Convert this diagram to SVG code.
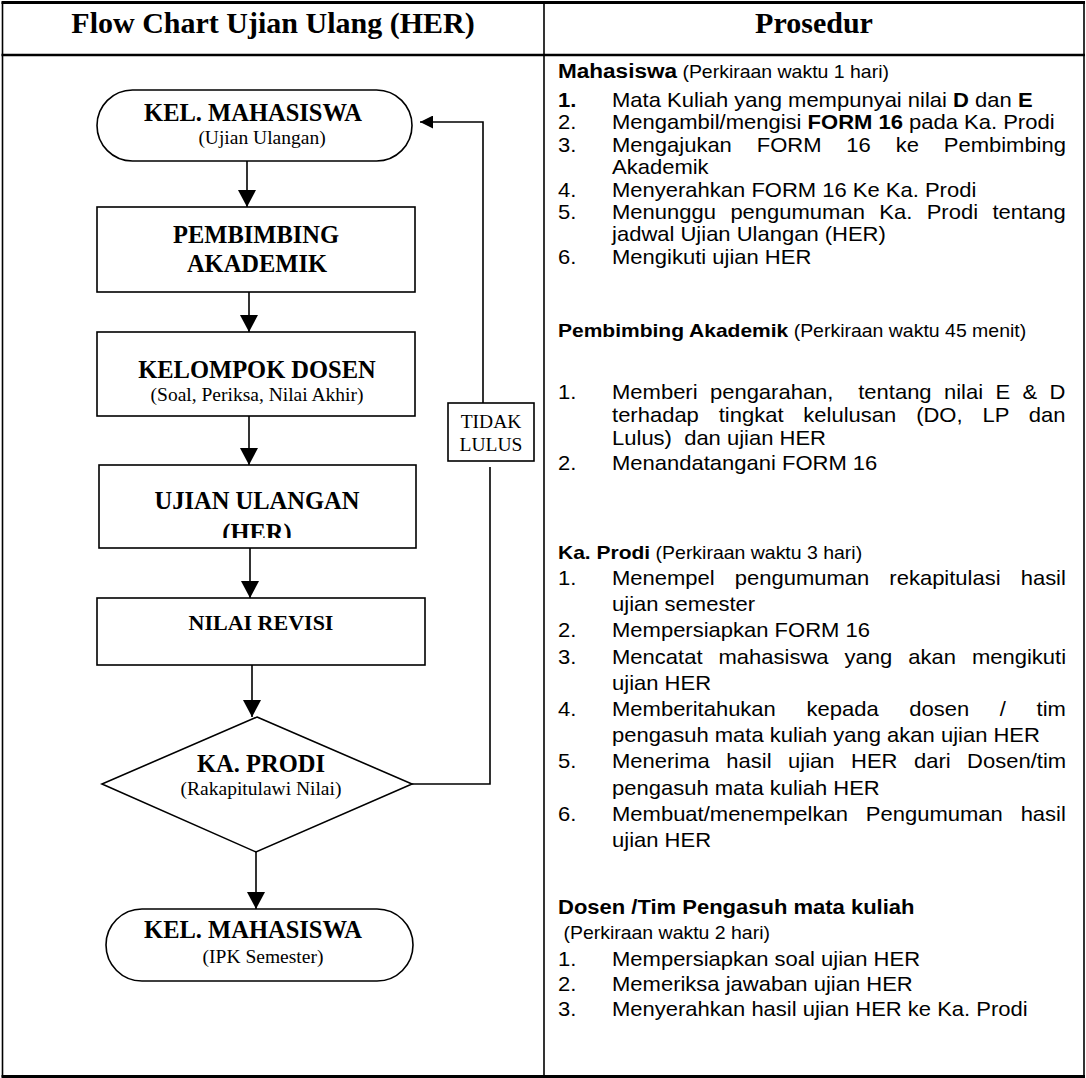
<svg xmlns="http://www.w3.org/2000/svg" width="1086" height="1078" viewBox="0 0 1086 1078">
<style>
.shape{fill:#fff;stroke:#000;stroke-width:1.6}
.ln{fill:none;stroke:#000;stroke-width:1.6}
.ts{font-family:"Liberation Serif","Times New Roman",serif;fill:#000;text-anchor:middle}
.tb{font-weight:bold;font-size:24.5px}
.tr{font-size:19.5px}
.hd{font-family:"Liberation Serif","Times New Roman",serif;font-weight:bold;font-size:30px;text-anchor:middle}
.p{font-family:"Liberation Sans",Arial,sans-serif;font-size:20px;fill:#000}
.b{font-weight:bold}
.sm{font-size:17.7px}
.h1{font-size:20.5px;font-weight:bold}
.h2{font-size:19.1px;font-weight:bold}
</style>
<defs>
<marker id="arr" viewBox="0 0 17 18" refX="17" refY="9" markerWidth="17" markerHeight="18" markerUnits="userSpaceOnUse" orient="auto"><path d="M0,0 L17,9 L0,18 z" fill="#000"/></marker>
<marker id="arrs" viewBox="0 0 13 13" refX="13" refY="6.5" markerWidth="13" markerHeight="13" markerUnits="userSpaceOnUse" orient="auto"><path d="M0,0 L13,6.5 L0,13 z" fill="#000"/></marker>
<clipPath id="clip4"><rect x="99" y="465" width="317" height="73"/></clipPath>
</defs>
<rect width="1086" height="1078" fill="#fff"/>
<g id="table">
<line x1="2.5" y1="2" x2="2.5" y2="1077" stroke="#000" stroke-width="1.6"/>
<line x1="1084" y1="2" x2="1084" y2="1077" stroke="#000" stroke-width="1.6"/>
<line x1="544" y1="2" x2="544" y2="1077" stroke="#000" stroke-width="1.6"/>
<line x1="1.5" y1="2.5" x2="1085" y2="2.5" stroke="#000" stroke-width="3"/>
<line x1="1.5" y1="55" x2="1085" y2="55" stroke="#000" stroke-width="2.5"/>
<line x1="1.5" y1="1076.5" x2="1085" y2="1076.5" stroke="#000" stroke-width="3"/>
<text class="hd" x="273" y="33">Flow Chart Ujian Ulang (HER)</text>
<text class="hd" x="814" y="33">Prosedur</text>
</g>
<g id="connectors">
<path class="ln" d="M247,161 V207" marker-end="url(#arr)"/>
<path class="ln" d="M249,292 V332" marker-end="url(#arr)"/>
<path class="ln" d="M249,416 V465" marker-end="url(#arr)"/>
<path class="ln" d="M250,548 V598" marker-end="url(#arr)"/>
<path class="ln" d="M252,665 V717" marker-end="url(#arr)"/>
<path class="ln" d="M256,852 V909" marker-end="url(#arr)"/>
<path class="ln" d="M412,784 H490 V467"/>
<path class="ln" d="M483,403 V122 H420" marker-end="url(#arrs)"/>
</g>
<g id="n1">
<rect class="shape" x="97" y="90" width="315" height="71" rx="35.5" ry="35.5"/>
<text class="ts tb" x="253" y="121">KEL. MAHASISWA</text>
<text class="ts tr" x="262" y="144">(Ujian Ulangan)</text>
</g>
<g id="n2">
<rect class="shape" x="97" y="207" width="318" height="85"/>
<text class="ts tb" x="256" y="243">PEMBIMBING</text>
<text class="ts tb" x="257" y="272">AKADEMIK</text>
</g>
<g id="n3">
<rect class="shape" x="97" y="332" width="318" height="84"/>
<text class="ts tb" x="257" y="378">KELOMPOK DOSEN</text>
<text class="ts tr" x="257" y="401">(Soal, Periksa, Nilai Akhir)</text>
</g>
<g id="n4">
<rect class="shape" x="99" y="465" width="317" height="83"/>
<g clip-path="url(#clip4)">
<text class="ts tb" x="257" y="509">UJIAN ULANGAN</text>
<text class="ts tb" x="257" y="541">(HER)</text>
</g>
</g>
<g id="n5">
<rect class="shape" x="97" y="598" width="328" height="67"/>
<text class="ts tb" x="261" y="630" style="font-size:22px">NILAI REVISI</text>
</g>
<g id="n6">
<polygon class="shape" points="257,717 412,784 256,852 102,784"/>
<text class="ts tb" x="261" y="772">KA. PRODI</text>
<text class="ts tr" x="261" y="795">(Rakapitulawi Nilai)</text>
</g>
<g id="n7">
<rect class="shape" x="106" y="909" width="307" height="72" rx="36" ry="36"/>
<text class="ts tb" x="253" y="938">KEL. MAHASISWA</text>
<text class="ts tr" x="263" y="963">(IPK Semester)</text>
</g>
<g id="n8">
<rect class="shape" x="448" y="403" width="86" height="58"/>
<text class="ts tr" x="491" y="428">TIDAK</text>
<text class="ts tr" x="491" y="451">LULUS</text>
</g>
<g id="prosedur" class="p" transform="scale(1.1,1)">
<text x="507.3" y="78"><tspan class="h1">Mahasiswa</tspan><tspan class="sm"> (Perkiraan waktu 1 hari)</tspan></text>
<text x="507.3" y="107" class="b">1.</text><text x="556.4" y="107">Mata Kuliah yang mempunyai nilai <tspan class="b">D</tspan> dan <tspan class="b">E</tspan></text>
<text x="507.3" y="129.4">2.</text><text x="556.4" y="129.4">Mengambil/mengisi <tspan class="b">FORM 16</tspan> pada Ka. Prodi</text>
<text x="507.3" y="151.8">3.</text><text x="556.4" y="151.8" style="word-spacing:17.05px">Mengajukan FORM 16 ke Pembimbing</text>
<text x="556.4" y="174.2">Akademik</text>
<text x="507.3" y="196.6">4.</text><text x="556.4" y="196.6">Menyerahkan FORM 16 Ke Ka. Prodi</text>
<text x="507.3" y="219">5.</text><text x="556.4" y="219" style="word-spacing:7.55px">Menunggu pengumuman Ka. Prodi tentang</text>
<text x="556.4" y="241.4">jadwal Ujian Ulangan (HER)</text>
<text x="507.3" y="263.8">6.</text><text x="556.4" y="263.8">Mengikuti ujian HER</text>

<text x="507.3" y="337"><tspan class="h2">Pembimbing Akademik</tspan><tspan class="sm"> (Perkiraan waktu 45 menit)</tspan></text>
<text x="507.3" y="399">1.</text><text x="556.4" y="399" style="word-spacing:5.7px" xml:space="preserve">Memberi pengarahan,  tentang nilai E &amp; D</text>
<text x="556.4" y="422" style="word-spacing:12.5px">terhadap tingkat kelulusan (DO, LP dan</text>
<text x="556.4" y="445" xml:space="preserve">Lulus)  dan ujian HER</text>
<text x="507.3" y="470">2.</text><text x="556.4" y="470">Menandatangani FORM 16</text>

<text x="507.3" y="559"><tspan class="h2">Ka. Prodi</tspan><tspan class="sm"> (Perkiraan waktu 3 hari)</tspan></text>
<text x="507.3" y="585">1.</text><text x="556.4" y="585" style="word-spacing:12.7px">Menempel pengumuman rekapitulasi hasil</text>
<text x="556.4" y="611">ujian semester</text>
<text x="507.3" y="637">2.</text><text x="556.4" y="637">Mempersiapkan FORM 16</text>
<text x="507.3" y="664">3.</text><text x="556.4" y="664" style="word-spacing:9px">Mencatat mahasiswa yang akan mengikuti</text>
<text x="556.4" y="690">ujian HER</text>
<text x="507.3" y="716">4.</text><text x="556.4" y="716" style="word-spacing:22.3px">Memberitahukan kepada dosen / tim</text>
<text x="556.4" y="742">pengasuh mata kuliah yang akan ujian HER</text>
<text x="507.3" y="768">5.</text><text x="556.4" y="768" style="word-spacing:9.45px">Menerima hasil ujian HER dari Dosen/tim</text>
<text x="556.4" y="795">pengasuh mata kuliah HER</text>
<text x="507.3" y="821">6.</text><text x="556.4" y="821" style="word-spacing:10.7px">Membuat/menempelkan Pengumuman hasil</text>
<text x="556.4" y="847">ujian HER</text>

<text x="507.3" y="914" class="b">Dosen /Tim Pengasuh mata kuliah</text>
<text x="507.3" y="939" class="sm" xml:space="preserve"> (Perkiraan waktu 2 hari)</text>
<text x="507.3" y="966">1.</text><text x="556.4" y="966">Mempersiapkan soal ujian HER</text>
<text x="507.3" y="991">2.</text><text x="556.4" y="991">Memeriksa jawaban ujian HER</text>
<text x="507.3" y="1016">3.</text><text x="556.4" y="1016">Menyerahkan hasil ujian HER ke Ka. Prodi</text>
</g>
</svg>
